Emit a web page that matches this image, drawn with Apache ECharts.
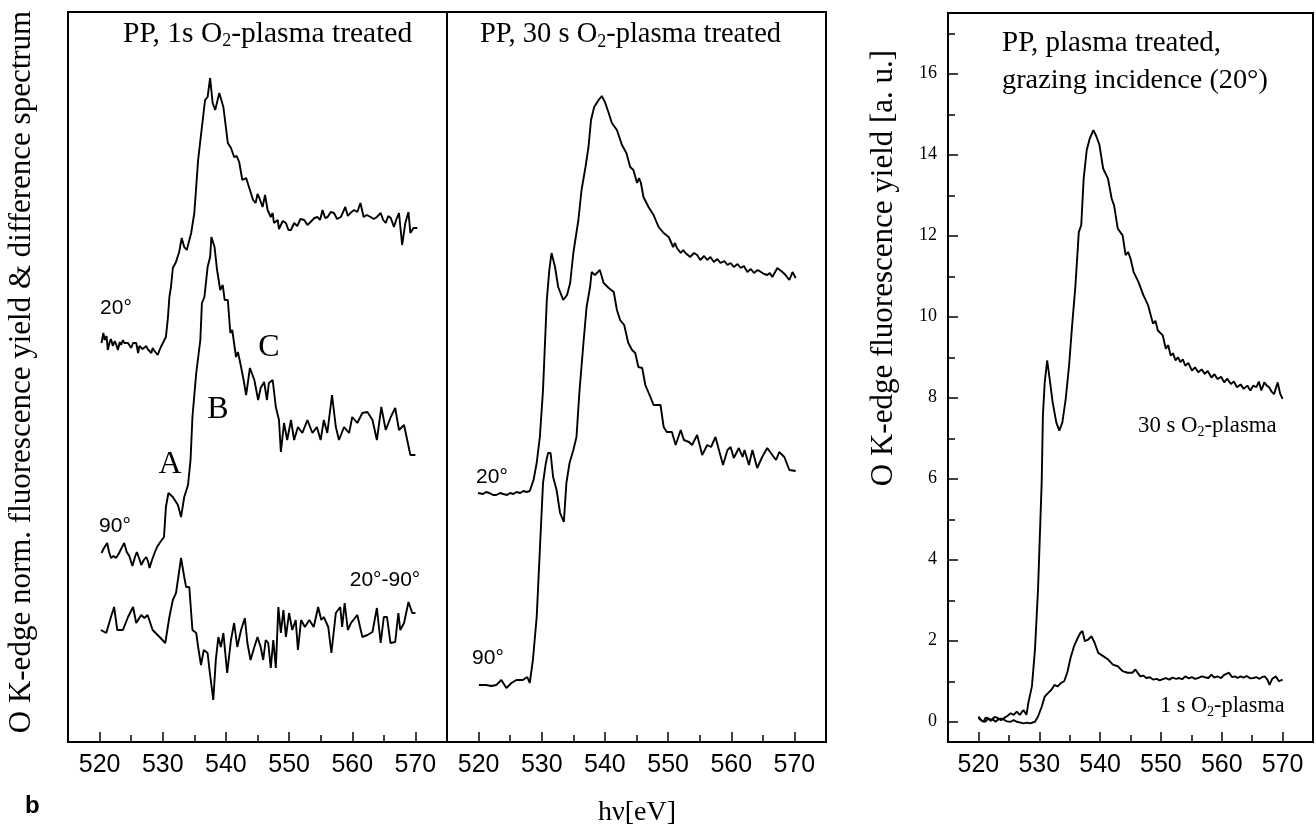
<!DOCTYPE html>
<html>
<head>
<meta charset="utf-8">
<script src="https://cdn.jsdelivr.net/npm/echarts@6/dist/echarts.min.js"></script>
<style>
html, body { margin: 0; background: #fff; }
#chart { width: 1316px; height: 828px; }
</style>
</head>
<body>
<div id="chart"></div>
<script>
// tick labels
const xTicks = [520, 530, 540, 550, 560, 570];
const yTicksRight = [0, 2, 4, 6, 8, 10, 12, 14, 16];

// left panel, PP 1 s, [hv, yield] (offset arbitrary units)
const left20 = [[520.3,39.9],[520.6,40.9],[520.8,40.2],[521.1,40.6],[521.3,39.2],[521.6,40.0],[521.8,40.3],[522.1,39.6],[522.4,40.1],[522.6,39.8],[522.9,39.2],[523.2,40.0],[523.4,39.7],[523.7,40.2],[523.9,39.9],[524.2,40.1],[524.5,39.9],[524.7,40.1],[525.0,39.4],[525.3,39.9],[525.5,39.7],[525.8,39.9],[526.1,38.9],[526.3,39.6],[526.6,39.7],[526.8,39.3],[527.1,39.2],[527.4,39.6],[527.6,39.3],[527.9,39.5],[528.2,38.9],[528.4,39.4],[528.7,39.1],[528.9,39.3],[529.2,38.7],[529.5,39.2],[529.7,39.5],[530.0,39.6],[530.5,40.5],[530.8,42.3],[531.05,44.5],[531.3,45.5],[531.6,47.4],[532.1,48.0],[532.6,49.0],[533.0,50.4],[533.4,49.5],[533.8,49.2],[534.5,50.9],[535.0,52.9],[535.6,58.2],[536.2,61.5],[536.7,64.2],[537.1,64.5],[537.5,66.4],[537.9,63.9],[538.3,63.2],[538.95,64.9],[539.6,63.5],[540.3,59.9],[540.8,59.4],[541.3,58.5],[541.7,58.6],[542.1,58.0],[542.6,56.2],[543.2,56.4],[543.6,55.6],[543.95,54.9],[544.3,54.2],[544.7,53.9],[545.0,54.8],[545.3,54.4],[545.8,53.5],[546.2,54.7],[546.6,53.2],[547.1,52.5],[547.4,52.9],[547.6,51.9],[548.2,52.2],[548.4,51.3],[548.7,51.5],[549.0,52.1],[549.5,51.9],[549.9,51.2],[550.3,51.2],[550.8,51.9],[551.3,51.6],[551.8,52.3],[552.4,52.2],[552.9,51.7],[553.4,52.0],[554.0,52.4],[554.5,52.5],[554.9,52.2],[555.3,53.2],[555.7,52.4],[556.1,52.5],[556.6,53.0],[557.1,52.9],[557.6,52.3],[558.2,52.5],[558.9,53.5],[559.3,52.6],[559.7,52.9],[560.3,53.2],[560.8,53.0],[561.3,53.9],[561.8,52.5],[562.3,52.7],[562.9,52.5],[563.4,52.3],[563.9,52.5],[564.5,52.9],[564.9,52.2],[565.3,51.9],[565.7,52.6],[566.1,52.4],[566.6,51.5],[567.0,52.3],[567.4,52.9],[567.9,49.7],[568.4,51.9],[568.9,53.0],[569.2,50.9],[569.7,51.4],[570.3,51.4]];

const left90 = [[520.3,18.9],[520.7,19.4],[521.2,19.9],[521.5,19.0],[521.8,18.4],[522.2,18.6],[522.6,18.4],[523.1,18.9],[523.4,19.3],[523.9,19.9],[524.3,19.0],[524.7,18.6],[525.2,17.6],[525.6,18.5],[525.9,19.0],[526.3,18.3],[526.6,17.7],[527.0,18.2],[527.4,18.5],[527.7,18.0],[527.9,17.4],[528.3,18.2],[528.7,18.9],[529.1,19.5],[529.5,19.9],[530.2,20.5],[530.5,23.5],[530.9,24.9],[531.6,24.5],[532.4,23.7],[532.9,22.5],[533.4,24.5],[534.0,25.7],[534.4,28.2],[534.7,32.5],[535.3,36.9],[535.95,40.2],[536.2,43.9],[536.6,44.5],[537.1,47.5],[537.5,48.5],[537.7,50.5],[538.2,49.5],[538.6,47.2],[539.1,45.2],[539.5,45.7],[539.8,44.2],[540.3,44.2],[540.7,40.9],[541.0,41.2],[541.6,38.5],[541.9,39.0],[542.4,37.5],[542.8,36.2],[543.2,34.7],[543.8,37.4],[544.5,36.2],[545.1,34.2],[545.5,35.4],[546.05,36.0],[546.5,34.2],[546.8,35.9],[547.4,36.2],[547.9,33.5],[548.4,32.2],[548.7,29.0],[549.2,31.9],[549.7,30.2],[550.3,32.2],[550.8,30.2],[551.4,31.5],[552.1,30.9],[552.9,32.2],[553.7,30.9],[554.4,31.5],[555.0,30.2],[555.5,32.2],[556.05,30.9],[556.8,34.7],[557.4,31.5],[557.9,30.2],[558.7,31.5],[559.5,30.9],[560.0,32.5],[560.8,31.9],[561.6,32.9],[562.4,33.0],[563.2,32.2],[563.9,30.2],[564.6,33.5],[565.3,31.2],[566.1,32.5],[566.8,33.4],[567.4,31.2],[568.2,31.7],[569.2,28.7],[570.0,28.7]];

const leftDiff = [[520.2,11.2],[521.05,10.9],[521.8,12.5],[522.3,13.5],[522.8,11.2],[523.7,11.2],[524.5,12.5],[525.3,13.5],[525.8,11.9],[526.6,12.7],[527.1,12.4],[527.6,12.7],[528.4,11.2],[529.5,10.5],[530.4,9.9],[531.05,12.5],[531.6,14.2],[532.1,14.9],[532.9,18.4],[533.4,16.5],[533.7,15.5],[534.2,15.5],[534.7,11.2],[535.3,10.9],[535.6,9.5],[536.05,7.7],[536.5,9.2],[537.1,8.9],[537.4,7.2],[538.0,4.2],[538.4,8.2],[538.8,10.5],[539.2,9.5],[539.6,10.9],[540.2,6.9],[540.8,10.2],[541.3,11.9],[541.8,9.5],[542.4,11.2],[543.0,12.4],[543.4,9.9],[543.9,8.2],[544.5,9.5],[545.0,10.5],[545.5,9.5],[545.9,8.2],[546.3,10.2],[546.7,9.9],[547.1,7.4],[547.5,10.2],[547.9,7.4],[548.3,13.5],[548.7,10.9],[549.1,13.2],[549.5,10.5],[550.0,12.9],[550.5,11.2],[551.05,12.2],[551.4,9.2],[551.9,12.2],[552.5,11.5],[553.2,12.2],[553.9,11.5],[554.6,13.5],[555.1,12.2],[555.5,12.5],[556.2,11.5],[556.7,8.9],[557.4,12.9],[558.1,13.5],[558.4,11.5],[558.8,13.9],[559.3,11.2],[559.8,11.9],[560.8,12.7],[561.6,10.5],[562.4,10.7],[563.2,11.0],[563.9,13.4],[564.5,9.9],[565.0,12.5],[565.5,12.5],[566.05,9.9],[566.8,10.0],[567.3,12.9],[567.6,11.2],[568.2,11.9],[568.9,14.0],[569.5,12.9],[570.0,12.9]];

// middle panel, PP 30 s
const mid20 = [[519.9,24.9],[520.7,24.8],[521.2,25.0],[521.7,24.9],[522.3,24.7],[522.8,24.7],[523.4,24.9],[523.9,24.8],[524.5,24.7],[525.0,24.9],[525.5,24.8],[526.0,25.0],[526.6,24.9],[527.1,25.1],[527.6,25.0],[528.1,25.1],[528.7,26.2],[529.2,27.9],[529.7,30.5],[530.2,35.2],[530.8,44.2],[531.2,47.2],[531.55,48.9],[532.1,47.5],[532.6,45.5],[533.4,44.2],[534.0,44.7],[534.5,45.9],[535.0,48.9],[535.8,52.2],[536.3,55.2],[536.9,57.4],[537.4,59.5],[537.8,62.2],[538.3,63.5],[539.0,64.2],[539.5,64.6],[540.0,64.0],[540.6,62.9],[541.1,61.9],[541.9,61.2],[542.7,59.7],[543.4,58.9],[544.0,57.5],[544.5,57.2],[545.1,55.9],[545.4,56.4],[545.7,55.9],[546.1,54.5],[546.9,53.5],[547.7,52.7],[548.5,51.5],[549.3,50.9],[550.1,50.5],[550.8,49.5],[551.1,49.9],[551.4,49.4],[552.0,48.9],[552.4,49.2],[552.75,48.9],[553.5,48.5],[554.1,48.9],[554.6,48.7],[555.1,48.2],[555.7,48.6],[556.2,48.2],[556.7,48.5],[557.25,48.0],[557.8,48.3],[558.3,47.9],[558.9,48.1],[559.4,47.7],[559.9,47.9],[560.4,47.5],[561.0,47.8],[561.5,47.4],[562.0,47.6],[562.55,47.0],[563.1,47.3],[563.6,46.9],[564.2,47.2],[564.7,47.0],[565.2,46.8],[565.7,46.7],[566.1,46.9],[566.5,46.5],[567.3,47.4],[568.1,47.0],[568.6,46.7],[569.2,46.2],[569.7,47.0],[570.2,46.4]];

const mid90 = [[520.05,5.7],[521.2,5.7],[522.0,5.6],[522.8,5.7],[523.6,6.2],[524.4,5.4],[525.2,5.9],[526.0,6.2],[527.0,6.2],[527.7,6.5],[528.1,5.9],[528.6,8.2],[529.2,12.5],[529.7,19.2],[530.2,25.9],[530.65,27.9],[531.0,28.9],[531.4,28.9],[531.8,26.5],[532.35,25.2],[532.9,22.9],[533.5,22.0],[533.9,25.9],[534.4,27.9],[535.0,29.2],[535.5,30.5],[535.95,34.9],[536.6,39.9],[537.1,43.5],[537.65,45.5],[537.9,47.0],[538.4,46.7],[539.2,47.2],[539.8,45.9],[540.6,45.4],[541.4,45.0],[541.9,43.2],[542.4,42.2],[543.05,41.7],[543.7,39.9],[544.3,39.2],[544.8,38.9],[545.3,37.5],[545.9,37.4],[546.4,35.7],[547.2,34.5],[547.7,33.7],[548.8,33.7],[549.3,31.5],[549.8,31.0],[550.6,31.0],[551.2,29.7],[552.0,31.2],[552.5,30.2],[553.3,30.0],[553.8,29.7],[554.6,30.7],[555.4,28.7],[556.2,29.7],[556.8,29.5],[557.5,30.5],[558.05,29.2],[558.7,27.7],[559.4,29.2],[559.9,29.5],[560.4,28.4],[561.2,29.4],[561.8,28.5],[562.1,29.2],[562.8,27.7],[563.35,29.2],[564.1,27.4],[564.9,28.5],[565.7,29.4],[566.5,28.7],[567.1,28.2],[567.6,29.0],[568.4,28.5],[569.2,27.2],[570.2,27.1]];

// right panel, grazing incidence, absolute yield [a. u.]
const right30s = [[520.0,0.09],[520.5,0.03],[521.1,0.0],[521.6,0.07],[522.1,0.05],[522.7,0.12],[523.2,0.09],[523.7,0.04],[524.2,0.09],[524.8,0.15],[525.3,0.21],[525.8,0.17],[526.3,0.25],[526.8,0.17],[527.4,0.29],[527.9,0.17],[528.2,0.46],[528.8,0.88],[529.3,1.79],[529.8,3.27],[530.4,5.91],[530.6,7.56],[530.9,8.38],[531.3,8.92],[531.7,8.48],[532.2,7.89],[532.8,7.39],[533.3,7.19],[533.8,7.39],[534.35,7.97],[534.9,8.79],[535.4,9.78],[535.95,10.77],[536.5,12.09],[536.9,12.26],[537.3,13.41],[537.8,14.11],[538.3,14.4],[538.9,14.61],[539.4,14.45],[539.9,14.24],[540.5,13.66],[541.3,13.41],[541.9,12.92],[542.3,12.75],[542.9,12.18],[543.7,12.01],[544.2,11.52],[544.6,11.6],[545.0,11.44],[545.5,11.11],[546.3,10.86],[547.1,10.54],[547.9,10.28],[548.7,9.83],[549.1,9.9],[549.5,9.66],[550.3,9.54],[550.8,9.21],[551.2,9.3],[551.6,9.04],[552.0,9.1],[552.4,8.92],[552.8,9.0],[553.2,8.88],[553.6,8.95],[554.0,8.79],[554.5,8.86],[555.1,8.67],[555.6,8.75],[556.15,8.63],[556.7,8.7],[557.2,8.59],[557.7,8.66],[558.3,8.50],[558.8,8.58],[559.3,8.46],[559.9,8.52],[560.4,8.38],[560.9,8.47],[561.5,8.34],[562.0,8.4],[562.5,8.26],[563.1,8.33],[563.6,8.22],[564.2,8.3],[564.7,8.18],[565.2,8.3],[565.7,8.26],[566.1,8.4],[566.5,8.18],[567.0,8.38],[567.4,8.3],[567.8,8.26],[568.2,8.15],[568.6,8.09],[569.2,8.38],[569.6,8.1],[570.0,7.97]];

const right1s = [[520.0,0.13],[520.4,0.05],[520.8,0.0],[521.2,0.1],[521.6,0.09],[522.0,0.02],[522.4,0.06],[522.8,0.0],[523.2,0.05],[523.7,0.08],[524.2,0.05],[524.7,0.01],[525.3,0.0],[525.8,0.04],[526.3,0.0],[526.9,-0.02],[527.4,-0.04],[528.0,-0.02],[528.5,-0.04],[529.3,0.0],[529.8,0.13],[530.4,0.37],[530.9,0.62],[531.4,0.70],[532.0,0.79],[532.5,0.91],[533.0,0.87],[533.6,0.96],[534.1,1.0],[534.6,1.21],[535.15,1.58],[535.7,1.86],[536.2,2.03],[536.75,2.19],[537.1,2.24],[537.5,1.99],[538.05,2.03],[538.6,2.11],[539.1,1.95],[539.7,1.70],[540.5,1.62],[541.3,1.54],[542.1,1.41],[542.9,1.37],[543.7,1.25],[544.5,1.21],[545.3,1.21],[545.8,1.29],[546.6,1.12],[547.1,1.14],[547.6,1.08],[548.2,1.1],[548.7,1.04],[549.3,1.06],[549.8,1.02],[550.3,1.05],[550.8,1.08],[551.4,1.04],[551.9,1.09],[552.5,1.06],[553.0,1.08],[553.5,1.05],[554.0,1.12],[554.6,1.07],[555.1,1.1],[555.6,1.06],[556.15,1.08],[556.7,1.12],[557.2,1.1],[557.8,1.08],[558.3,1.16],[558.8,1.09],[559.3,1.12],[559.9,1.08],[560.4,1.16],[561.2,1.21],[561.7,1.1],[562.2,1.12],[562.6,1.08],[563.1,1.12],[563.6,1.09],[564.1,1.13],[564.7,1.07],[565.2,1.08],[565.7,1.1],[566.2,1.06],[566.6,1.1],[567.05,1.12],[567.5,1.04],[567.85,0.91],[568.3,1.06],[568.9,1.12],[569.4,1.0],[570.0,1.04]];

const chart = echarts.init(document.getElementById('chart'), null, { renderer: 'canvas' });

const serif = 'Liberation Serif';
const sans = 'Liberation Sans';
const black = '#000';

// right panel pixel scale: 40.5 px per unit, value 0 at y = 721.75
const unitPx = 40.5;
const zeroY = 721.75;

function frame(left, top, width, height){
    return { left, top, width, height, containLabel: false, show: true, borderColor: black, borderWidth: 2, backgroundColor: 'transparent' };
}

// label axis (every 5 eV, only 10s labelled) + tick axis (ticks counted from 515)
function xAxes(gridIndex){
    return [
        {
            gridIndex, type: 'value', position: 'bottom', min: 515, max: 575, interval: 5,
            axisLine: { show: false, onZero: false }, axisTick: { show: false }, splitLine: { show: false },
            axisLabel: { formatter: v => xTicks.includes(v) ? String(v) : '', fontFamily: sans, fontSize: 25, color: black, margin: 11 }
        },
        {
            gridIndex, type: 'value', position: 'bottom', min: 515, max: 575, interval: 10,
            axisLine: { show: false, onZero: false }, splitLine: { show: false }, axisLabel: { show: false },
            axisTick: { show: true, inside: true, length: 7, lineStyle: { color: black, width: 1.5 } },
            minorTick: { show: true, splitNumber: 2, length: 10, lineStyle: { color: black, width: 1.5 } }
        }
    ];
}

function curve(data, g){
    return {
        type: 'line', xAxisIndex: g * 2, yAxisIndex: g, data,
        showSymbol: false, symbol: 'none', silent: true,
        lineStyle: { color: black, width: 1.9 }
    };
}

function label(x, y, text, size, family, align, extra){
    return Object.assign({
        type: 'text', x, y, silent: true,
        style: { text, fontSize: size, fontFamily: family, fill: black,
                 align: align || 'center', verticalAlign: 'middle',
                 textAlign: align || 'center', textVerticalAlign: 'middle' }
    }, extra || {});
}

// text with O2 subscript
function subLabel(x, y, before, after, size){
    return {
        type: 'text', x, y, silent: true,
        style: {
            text: '{n|' + before + '}{s|2}{n|' + after + '}',
            align: 'left', verticalAlign: 'middle', textAlign: 'left', textVerticalAlign: 'middle',
            fill: black,
            rich: {
                n: { fontSize: size, fontFamily: serif, lineHeight: size + 4, fill: black },
                s: { fontSize: Math.round(size * 0.62), fontFamily: serif, lineHeight: Math.round(size * 0.43), verticalAlign: 'bottom', fill: black }
            }
        }
    };
}

const tickStyle = { color: black, width: 1.5 };

const option = {
    animation: false,
    backgroundColor: '#fff',
    grid: [
        frame(68, 12, 379, 730),
        frame(447, 12, 379, 730),
        frame(948, 13, 376, 729),
        // even ticks 0..16 (labelled), odd ticks 1..17
        { left: 948, top: 13, width: 376, height: zeroY - 13, containLabel: false, show: false },
        { left: 948, top: 13, width: 376, height: zeroY - unitPx - 13, containLabel: false, show: false }
    ],
    xAxis: [
        ...xAxes(0), ...xAxes(1), ...xAxes(2),
        { gridIndex: 3, type: 'value', min: 515, max: 575, show: false },
        { gridIndex: 4, type: 'value', min: 515, max: 575, show: false }
    ],
    yAxis: [
        { gridIndex: 0, type: 'value', min: 0, max: 73, show: false },
        { gridIndex: 1, type: 'value', min: 0, max: 73, show: false },
        { gridIndex: 2, type: 'value', min: -0.5, max: 17.5, show: false },
        {
            gridIndex: 3, type: 'value', min: 0, max: 17.5, interval: 2,
            axisLine: { show: false, onZero: false }, splitLine: { show: false },
            axisTick: { show: true, inside: true, length: 10, lineStyle: tickStyle },
            axisLabel: { formatter: v => yTicksRight.includes(v) ? String(v) : '', fontFamily: serif, fontSize: 18, color: black, margin: 11 }
        },
        {
            gridIndex: 4, type: 'value', min: 1, max: 17.5, interval: 2,
            axisLine: { show: false, onZero: false }, splitLine: { show: false },
            axisTick: { show: true, inside: true, length: 7, lineStyle: tickStyle },
            axisLabel: { show: false }
        }
    ],
    series: [
        curve(left20, 0), curve(left90, 0), curve(leftDiff, 0),
        curve(mid20, 1), curve(mid90, 1),
        curve(right30s, 2), curve(right1s, 2)
    ],
    graphic: { elements: [
        subLabel(123, 34, 'PP, 1s O', '-plasma treated', 29.5),
        subLabel(480, 35, 'PP, 30 s O', '-plasma treated', 28.5),
        label(1002, 43, 'PP, plasma treated,', 29, serif, 'left'),
        label(1002, 81, 'grazing incidence (20°)', 28.3, serif, 'left'),
        subLabel(1138, 426, '30 s O', '-plasma', 22.8),
        subLabel(1160, 706, '1 s O', '-plasma', 22.3),
        label(170, 465, 'A', 32, serif),
        label(218, 410, 'B', 32, serif),
        label(269, 348, 'C', 32, serif),
        label(116, 308, '20°', 21, sans),
        label(115, 526, '90°', 21, sans),
        label(385, 580, '20°-90°', 21, sans),
        label(492, 477, '20°', 21, sans),
        label(488, 658, '90°', 21, sans),
        label(637, 813, 'hν[eV]', 28, serif),
        label(25, 806, 'b', 24, sans, 'left'),
        label(22, 372, 'O K-edge norm. fluorescence yield & difference spectrum', 31, serif, 'center', { rotation: Math.PI / 2 }),
        label(884, 268, 'O K-edge fluorescence yield [a. u.]', 31, serif, 'center', { rotation: Math.PI / 2 })
    ] }
};

option.graphic.elements[15].style.fontWeight = 'bold';

chart.setOption(option);
window.addEventListener('resize', () => chart.resize());
</script>
</body>
</html>
